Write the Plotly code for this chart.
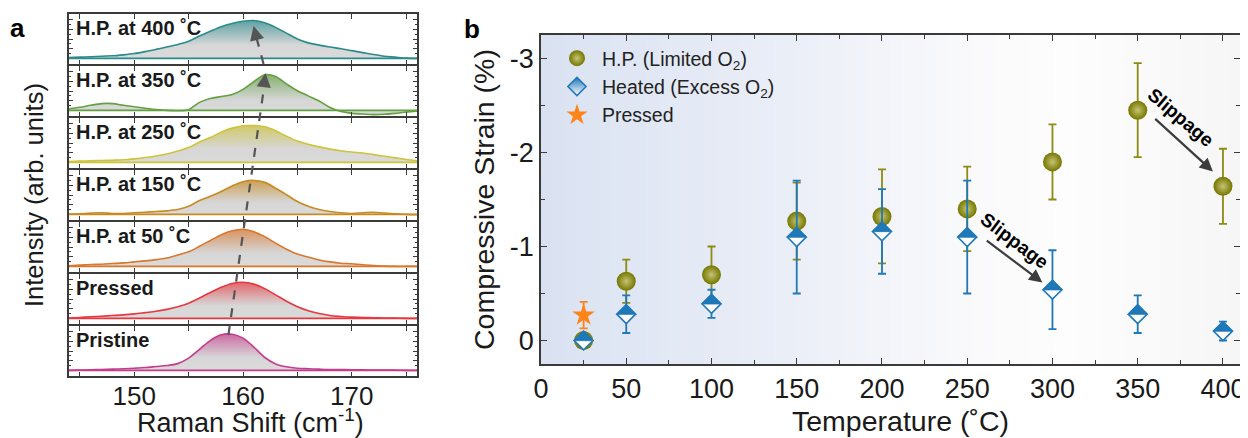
import plotly.graph_objects as go

# ---------------- Panel a : Raman spectra ----------------
raman_shift = [144, 145, 146, 147, 148, 149, 150, 151, 152, 153, 154, 155, 156, 157, 158, 159, 160,
               161, 162, 163, 164, 165, 166, 167, 168, 169, 170, 171, 172, 173, 174, 175, 176]

spec_labels = ["H.P. at 400 ˚C", "H.P. at 350 ˚C", "H.P. at 250 ˚C", "H.P. at 150 ˚C",
               "H.P. at 50 ˚C", "Pressed", "Pristine"]

spec_400 = [1.0, 1.3, 1.7, 2.3, 2.7, 3.7, 5.0, 7.0, 9.3, 11.7, 14.3, 17.7, 23.0, 28.0, 32.7, 36.0, 38.3,
            39.0, 36.7, 32.0, 26.0, 20.0, 16.0, 13.7, 11.7, 10.0, 8.0, 6.0, 4.0, 2.3, 1.3, 0.3, 0.0]
spec_350 = [1.7, 3.3, 5.3, 7.0, 7.0, 5.3, 3.7, 2.3, 1.0, 0.0, -0.3, 0.7, 8.3, 12.3, 14.3, 16.3, 21.7,
            29.7, 36.7, 35.0, 27.3, 20.3, 15.0, 9.7, 3.0, -1.0, -3.0, -3.7, -4.3, -4.0, -3.0, -1.7, -0.7]
spec_250 = [1.0, 1.3, 1.7, 2.0, 2.3, 2.7, 3.7, 5.0, 6.7, 8.7, 11.7, 15.3, 21.0, 25.7, 31.0, 35.3, 37.7,
            38.0, 36.7, 32.7, 27.0, 22.0, 18.7, 16.0, 13.7, 12.0, 10.7, 9.7, 8.0, 6.3, 4.7, 3.0, 1.7]
spec_150 = [0.3, 0.7, 1.3, 1.7, 1.0, 1.0, 1.7, 2.3, 3.0, 3.7, 5.0, 8.3, 14.3, 18.7, 23.7, 29.3, 33.7,
            35.0, 33.0, 27.0, 20.3, 13.3, 8.3, 5.0, 3.0, 1.7, 1.0, 1.7, 2.3, 1.3, 0.7, 0.0, -0.3]
spec_50 = [0.7, 1.3, 2.0, 2.3, 3.0, 3.7, 4.7, 5.7, 7.0, 8.7, 11.7, 15.0, 20.7, 26.7, 32.7, 36.7, 38.3,
           35.7, 30.7, 24.0, 17.7, 12.7, 9.7, 6.7, 4.7, 3.3, 2.7, 1.7, 1.0, 0.3, 0.0, 0.0, 0.0]
spec_pressed = [0.3, 1.0, 1.7, 2.3, 3.0, 3.7, 4.7, 6.0, 7.3, 9.3, 12.0, 15.7, 21.0, 26.7, 32.0, 36.0, 37.3,
                35.3, 30.7, 24.3, 17.7, 12.0, 8.0, 5.0, 3.0, 2.0, 1.3, 1.0, 0.7, 0.3, 0.3, 0.0, 0.0]
spec_pristine = [0.0, 0.3, 0.7, 1.0, 1.3, 1.7, 2.3, 3.0, 4.0, 5.0, 7.0, 12.7, 21.7, 31.0, 36.7, 37.3, 33.3,
                 24.0, 13.3, 6.7, 3.7, 2.3, 1.7, 1.3, 1.0, 1.0, 0.7, 0.7, 0.3, 0.3, 0.3, 0.0, 0.0]

spectra = [spec_400, spec_350, spec_250, spec_150, spec_50, spec_pressed, spec_pristine]
spec_colors = ["#2b8a8c", "#62a040", "#cdc43a", "#c98a22", "#d9772c", "#e6383f", "#c63c8c"]

# ---------------- Panel b : compressive strain ----------------
temperature = [25, 50, 100, 150, 200, 250, 300, 350, 400]
hp_strain = [0.0, -0.63, -0.70, -1.27, -1.32, -1.40, -1.90, -2.45, -1.64]
hp_err = [0.03, 0.23, 0.30, 0.41, 0.50, 0.45, 0.40, 0.50, 0.40]
heated_strain = [0.0, -0.28, -0.39, -1.10, -1.16, -1.10, -0.54, -0.28, -0.10]
heated_err = [0.02, 0.20, 0.15, 0.60, 0.45, 0.60, 0.42, 0.20, 0.10]
pressed_temp = [25]
pressed_strain = [-0.27]
pressed_err = [0.14]

FONT = "Liberation Sans, Arial, Helvetica, sans-serif"
FRAME = "#3a3a3a"
LW = 1.5
OLIVE = "#767600"
BLUE = "#1f78b8"
ORANGE = "#ff8418"

# the page body has an 8px margin: the figure is drawn 8px lower/right
OFF = 8
W, H = 1240, 430
ML, MR, MT, MB = 61, 8, 5, 61
PW, PH = W - ML - MR, H - MT - MB


def px_x(px):  # reference-picture pixel -> paper fraction
    return (px - OFF - ML) / PW


def px_y(py):
    return (H - MB - (py - OFF)) / PH


def xn(k):
    return "x" if k == 1 else "x%d" % k


def yn(k):
    return "y" if k == 1 else "y%d" % k


def mix(c, g, t):
    c = c.lstrip("#")
    r, gg, b = int(c[0:2], 16), int(c[2:4], 16), int(c[4:6], 16)
    return "rgb(%d,%d,%d)" % (r * t + g * (1 - t), gg * t + g * (1 - t), b * t + g * (1 - t))


fig = go.Figure()
layout = dict(
    width=W, height=H,
    margin=dict(l=ML, r=MR, t=MT, b=MB, autoexpand=False),
    paper_bgcolor="white", plot_bgcolor="rgba(0,0,0,0)",
    font=dict(family=FONT, color="#1a1a1a", size=20),
    showlegend=True,
)
annotations = []
shapes = []

panel_top, panel_h = 13, 52
for i, (spec, col, lab) in enumerate(zip(spectra, spec_colors, spec_labels)):
    k = i + 1
    fig.add_trace(go.Scatter(
        x=raman_shift, y=spec, xaxis=xn(k), yaxis=yn(k),
        mode="lines", line=dict(color=col, width=1.6, shape="spline", smoothing=0.9),
        fill="tozeroy",
        fillgradient=dict(type="vertical",
                          colorscale=[[0, "rgb(218,218,218)"], [0.35, "rgb(215,215,215)"],
                                      [1, mix(col, 215, 0.7)]]),
        showlegend=False, hoverinfo="skip"))
    # domain edges sit half a line width inside the divider so neighbouring frame lines coincide
    d0 = px_y(panel_top + panel_h * (i + 1) - LW / 2)
    d1 = px_y(panel_top + panel_h * i + LW / 2)
    xkey = "xaxis" if k == 1 else "xaxis%d" % k
    ykey = "yaxis" if k == 1 else "yaxis%d" % k
    layout[xkey] = dict(
        domain=[0, px_x(417)], range=[144, 176], anchor=yn(k),
        showline=True, linecolor=FRAME, linewidth=LW, mirror="allticks",
        ticks="inside", ticklen=5, tickwidth=1.2, tickcolor=FRAME,
        tickvals=[150, 160, 170], ticktext=["150", "160", "170"],
        minor=dict(tickvals=[145, 155, 165, 175], ticks="inside", ticklen=5, tickwidth=1.2, tickcolor=FRAME),
        showticklabels=(i == 6), tickfont=dict(size=26, family=FONT, color="#1a1a1a"),
        ticklabelstandoff=-4,
        showgrid=False, zeroline=False, fixedrange=True)
    layout[ykey] = dict(
        domain=[d0, d1], range=[-6, 46], anchor=xn(k),
        showline=True, linecolor=FRAME, linewidth=LW, mirror="allticks",
        ticks="inside", ticklen=4, tickwidth=1, tickcolor=FRAME,
        tickvals=[0, 10, 20, 30, 40],
        minor=dict(tickvals=[5, 15, 25, 35], ticks="inside", ticklen=2.5, tickcolor=FRAME),
        showticklabels=False, showgrid=False, zeroline=False, fixedrange=True)
    shapes.append(dict(type="line", xref="%s domain" % xn(k), yref=yn(k), x0=0, x1=1, y0=0, y1=0,
                       line=dict(color=col, width=1.6), layer="above"))
    annotations.append(dict(xref="%s domain" % xn(k), yref="%s domain" % yn(k), x=0.015, y=0.72,
                            xanchor="left", yanchor="middle", showarrow=False,
                            text="<b>%s</b>" % lab, font=dict(size=20, family=FONT, color="#1a1a1a")))

# dashed guide arrows in panel a
shapes.append(dict(type="line", xref="x7", yref="paper", x0=158.66, y0=px_y(335), x1=162.07, y1=px_y(77),
                   line=dict(color="#555555", width=2.2, dash="dash"), layer="above"))
shapes.append(dict(type="line", xref="x7", yref="paper", x0=161.89, y0=px_y(64), x1=161.05, y1=px_y(30),
                   line=dict(color="#555555", width=2.2, dash="dash"), layer="above"))
annotations.append(dict(xref="x7", yref="paper", x=162.07, y=px_y(73), ax=-1.4, ay=11, text="",
                        showarrow=True, arrowhead=2, arrowsize=1.3, arrowwidth=2.2, arrowcolor="#555555"))
annotations.append(dict(xref="x7", yref="paper", x=160.97, y=px_y(26), ax=2.8, ay=11, text="",
                        showarrow=True, arrowhead=2, arrowsize=1.3, arrowwidth=2.2, arrowcolor="#555555"))

# ---------------- Panel b traces ----------------
YRANGE_B = [0.25, -3.25]
y_px_per_unit = (px_y(35) - px_y(364)) * PH / abs(YRANGE_B[1] - YRANGE_B[0])
DIAMOND_SIZE = 14.5
HALF_SIZE = DIAMOND_SIZE * 1.074          # right-isoceles triangle matching the diamond's upper half
half_lift = 0.40 * (HALF_SIZE / 2) / y_px_per_unit   # move its base onto the marker centre (data units)
heated_upper = [v - half_lift for v in heated_strain]

fig.add_trace(go.Scatter(
    x=temperature, y=hp_strain, xaxis="x8", yaxis="y8", mode="markers",
    name="H.P. (Limited O<sub>2</sub>)",
    marker=dict(symbol="circle", size=19, color=OLIVE, line=dict(width=0),
                gradient=dict(type="radial", color="#c4c474")),
    error_y=dict(type="data", array=hp_err, color="#8c8c14", thickness=1.8, width=4)))
# legend entry for the half-filled diamond
fig.add_trace(go.Scatter(
    x=[None], y=[None], xaxis="x8", yaxis="y8", mode="markers",
    name="Heated (Excess O<sub>2</sub>)",
    marker=dict(symbol="diamond", size=14, color=BLUE, line=dict(width=1.5, color=BLUE),
                gradient=dict(type="vertical", color="white"))))
fig.add_trace(go.Scatter(
    x=temperature, y=heated_strain, xaxis="x8", yaxis="y8", mode="markers", showlegend=False,
    marker=dict(symbol="diamond", size=DIAMOND_SIZE, color="white", line=dict(width=1.6, color=BLUE)),
    error_y=dict(type="data", array=heated_err, color=BLUE, thickness=1.8, width=4)))
# filled upper half of each diamond
fig.add_trace(go.Scatter(
    x=temperature, y=heated_upper, xaxis="x8", yaxis="y8", mode="markers", showlegend=False,
    hoverinfo="skip",
    marker=dict(symbol="triangle-ne", angle=-45, size=HALF_SIZE, color=BLUE, line=dict(width=0.8, color=BLUE))))
fig.add_trace(go.Scatter(
    x=pressed_temp, y=pressed_strain, xaxis="x8", yaxis="y8", mode="markers", name="Pressed",
    marker=dict(symbol="star", size=17, color=ORANGE, line=dict(width=0)),
    error_y=dict(type="data", array=pressed_err, color=ORANGE, thickness=1.8, width=4)))

layout["xaxis8"] = dict(
    domain=[px_x(541), 1.0], range=[0, 410], anchor="y8",
    showline=True, linecolor=FRAME, linewidth=LW, mirror="allticks",
    ticks="inside", ticklen=6, tickwidth=1.2, tickcolor=FRAME,
    tickvals=[0, 50, 100, 150, 200, 250, 300, 350, 400],
    minor=dict(tickvals=[25, 75, 125, 175, 225, 275, 325, 375], ticks="inside", ticklen=4, tickcolor=FRAME),
    tickfont=dict(size=27, family=FONT, color="#1a1a1a"),
    showgrid=False, zeroline=False, fixedrange=True)
layout["yaxis8"] = dict(
    domain=[px_y(364), px_y(35)], range=YRANGE_B, anchor="x8",
    showline=True, linecolor=FRAME, linewidth=LW, mirror="allticks",
    ticks="inside", ticklen=6, tickwidth=1.2, tickcolor=FRAME,
    tickvals=[0, -1, -2, -3], ticktext=["0", "-1", "-2", "-3"],
    minor=dict(tickvals=[-0.5, -1.5, -2.5], ticks="inside", ticklen=4, tickcolor=FRAME),
    tickfont=dict(size=27, family=FONT, color="#1a1a1a"),
    showgrid=False, zeroline=False, fixedrange=True)

# background gradient for panel b (style only)
stops = [(0.0, (218, 226, 242)), (0.35, (234, 238, 247)), (0.6, (249, 249, 251)),
         (0.75, (253, 253, 253)), (1.0, (246, 246, 246))]
nstrip = 60
for s in range(nstrip):
    t = (s + 0.5) / nstrip
    for j in range(len(stops) - 1):
        if stops[j][0] <= t <= stops[j + 1][0]:
            u = (t - stops[j][0]) / (stops[j + 1][0] - stops[j][0])
            c = tuple(int(round(stops[j][1][m] + (stops[j + 1][1][m] - stops[j][1][m]) * u)) for m in range(3))
            break
    shapes.append(dict(type="rect", xref="x8 domain", yref="y8 domain", x0=s / nstrip, x1=(s + 1) / nstrip + 0.002,
                       y0=0, y1=1, fillcolor="rgb(%d,%d,%d)" % c, line=dict(width=0), layer="below"))

# slippage annotations
for (tx, ty, ang, hx, hy, sx, sy) in [(277.6, -1.064, 37, 294.1, -0.617, 260.6, -1.074),
                                      (375.3, -2.372, 40, 394.1, -1.798, 359.4, -2.372)]:
    annotations.append(dict(xref="x8", yref="y8", x=tx, y=ty, text="<b>Slippage</b>", textangle=ang,
                            xanchor="center", yanchor="middle",
                            showarrow=False, font=dict(size=19, family=FONT, color="black")))
    annotations.append(dict(xref="x8", yref="y8", x=hx, y=hy, axref="x8", ayref="y8", ax=sx, ay=sy,
                            text="", showarrow=True, arrowhead=2, arrowsize=1.2, arrowwidth=2.2,
                            arrowcolor="#3c3c3c"))


# axis titles & panel labels
def label(xp, yp, text, size, angle=0, color="#1a1a1a"):
    return dict(xref="paper", yref="paper", x=px_x(xp), y=px_y(yp), text=text, textangle=angle,
                xanchor="center", yanchor="middle", showarrow=False,
                font=dict(size=size, family=FONT, color=color))


annotations += [
    label(34, 195, "Intensity (arb. units)", 25.5, -90),
    label(250, 421, "Raman Shift (cm<sup>-1</sup>)", 27),
    label(484, 200, "Compressive Strain (%)", 28.5, -90),
    label(900, 421, "Temperature (˚C)", 28.5),
    label(17, 28, "<b>a</b>", 26, 0, "black"),
    label(472, 29, "<b>b</b>", 26, 0, "black"),
]

layout["annotations"] = annotations
layout["shapes"] = shapes
layout["legend"] = dict(x=px_x(552), y=px_y(39), xanchor="left", yanchor="top",
                        bgcolor="rgba(0,0,0,0)", font=dict(size=19.5, family=FONT, color="#222222"),
                        itemsizing="trace", itemwidth=40, tracegroupgap=0)
fig.update_layout(**layout)
fig.write_html("out.html")
